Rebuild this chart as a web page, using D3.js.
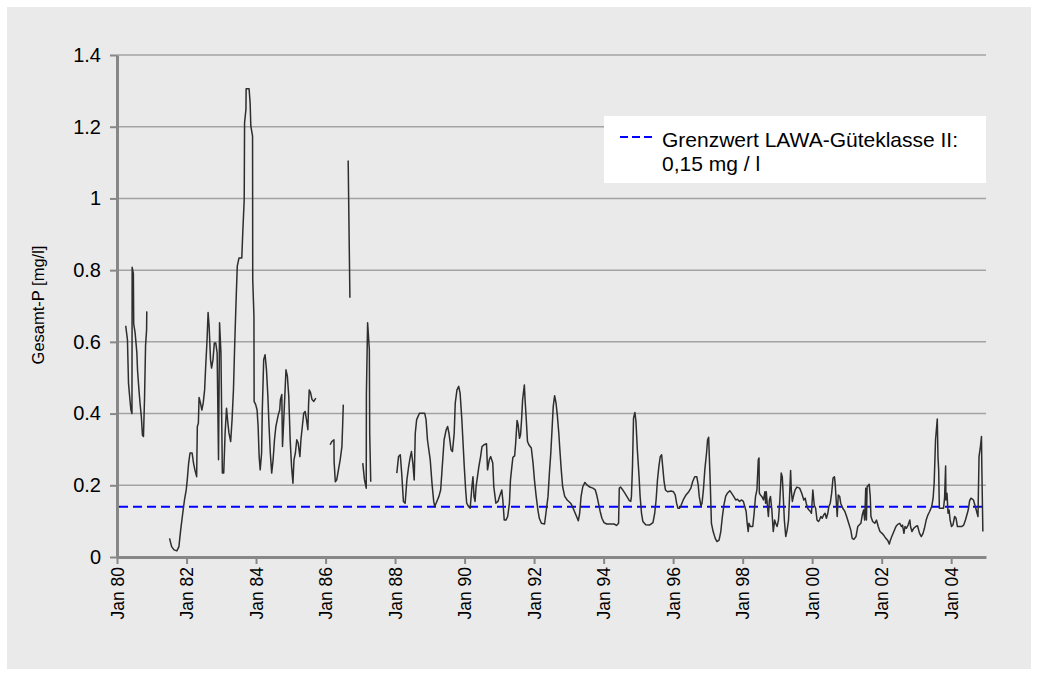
<!DOCTYPE html>
<html>
<head>
<meta charset="utf-8">
<script src="https://cdn.jsdelivr.net/npm/d3@7"></script>
<style>
  body { margin: 0; background: #fff; }
  svg { display: block; font-family: "Liberation Sans", Arial, sans-serif; }
</style>
</head>
<body>
<div id="chart"></div>
<script>
// sample dates as decimal years, null value = gap in the series
const years = [
  1980.25, 1980.30, 1980.33, 1980.37, 1980.40, 1980.43, 1980.435, 1980.47, 1980.48, 1980.52,
  1980.57, 1980.59, 1980.63, 1980.66, 1980.70, 1980.73, 1980.76, 1980.79, 1980.82, 1980.85, 1980.855,
  1981.2,
  1981.51, 1981.57, 1981.64, 1981.72, 1981.78, 1981.83, 1981.89, 1981.94, 1981.99, 1982.02,
  1982.06, 1982.10, 1982.16, 1982.20, 1982.24, 1982.29, 1982.31, 1982.34, 1982.36, 1982.40,
  1982.44, 1982.48, 1982.52, 1982.55, 1982.59, 1982.62, 1982.65, 1982.69, 1982.72, 1982.76,
  1982.80, 1982.84, 1982.88, 1982.92, 1982.95, 1982.99, 1983.03, 1983.07, 1983.11, 1983.15,
  1983.19, 1983.22, 1983.27, 1983.31, 1983.35, 1983.39, 1983.43, 1983.46, 1983.51, 1983.59,
  1983.62, 1983.66, 1983.67, 1983.71, 1983.715, 1983.80, 1983.83, 1983.85, 1983.90, 1983.905,
  1983.94, 1983.945, 1983.99, 1984.03, 1984.06, 1984.09, 1984.12, 1984.16, 1984.18, 1984.22,
  1984.26, 1984.30, 1984.34, 1984.37, 1984.41, 1984.45, 1984.49, 1984.53, 1984.57, 1984.60,
  1984.64, 1984.68, 1984.70, 1984.74, 1984.76, 1984.79, 1984.83, 1984.86, 1984.90, 1984.94,
  1984.98, 1985.02, 1985.06, 1985.09, 1985.13, 1985.17, 1985.21, 1985.26, 1985.29, 1985.33,
  1985.37, 1985.41, 1985.45, 1985.49, 1985.51, 1985.53, 1985.57, 1985.61, 1985.66, 1985.72,
  1985.9,
  1986.13, 1986.18, 1986.24, 1986.245, 1986.28, 1986.32, 1986.37, 1986.42, 1986.47, 1986.49, 1986.51,
  1986.58,
  1986.65, 1986.70,
  1986.9,
  1987.07, 1987.12, 1987.17, 1987.175, 1987.21, 1987.26, 1987.27, 1987.30,
  1987.7,
  1988.05, 1988.10, 1988.15, 1988.19, 1988.24, 1988.29, 1988.34, 1988.39, 1988.43, 1988.47,
  1988.51, 1988.55, 1988.58, 1988.62, 1988.70, 1988.85, 1988.89, 1988.93, 1989.01, 1989.06,
  1989.11, 1989.14, 1989.20, 1989.26, 1989.31, 1989.35, 1989.41, 1989.47, 1989.51, 1989.55,
  1989.61, 1989.65, 1989.70, 1989.73, 1989.78, 1989.83, 1989.87, 1989.92, 1989.95, 1989.99,
  1990.03, 1990.06, 1990.11, 1990.16, 1990.21, 1990.24, 1990.27, 1990.30, 1990.33, 1990.37,
  1990.41, 1990.46, 1990.50, 1990.56, 1990.63, 1990.66, 1990.71, 1990.75, 1990.81, 1990.84,
  1990.90, 1990.96, 1991.02, 1991.07, 1991.10, 1991.14, 1991.19, 1991.24, 1991.29, 1991.32,
  1991.36, 1991.39, 1991.44, 1991.47, 1991.51, 1991.54, 1991.58, 1991.61, 1991.64, 1991.67,
  1991.72, 1991.74, 1991.77, 1991.81, 1991.85, 1991.92, 1991.97, 1992.01, 1992.06, 1992.11,
  1992.15, 1992.21, 1992.30, 1992.34, 1992.40, 1992.44, 1992.48, 1992.52, 1992.55, 1992.59,
  1992.63, 1992.67, 1992.71, 1992.74, 1992.78, 1992.82, 1992.88, 1992.95, 1993.05, 1993.10,
  1993.16, 1993.22, 1993.27, 1993.31, 1993.35, 1993.40, 1993.46, 1993.52, 1993.60, 1993.69,
  1993.76, 1993.80, 1993.85, 1993.90, 1993.95, 1994.01, 1994.09, 1994.18, 1994.30, 1994.37,
  1994.43, 1994.45, 1994.49, 1994.55, 1994.61, 1994.68, 1994.74, 1994.78, 1994.80, 1994.83,
  1994.86, 1994.90, 1994.93, 1994.97, 1995.02, 1995.05, 1995.09, 1995.13, 1995.21, 1995.32,
  1995.42, 1995.47, 1995.51, 1995.55, 1995.59, 1995.63, 1995.67, 1995.70, 1995.74, 1995.78,
  1995.84, 1995.94, 1996.01, 1996.06, 1996.10, 1996.14, 1996.18, 1996.22, 1996.29, 1996.37,
  1996.45, 1996.51, 1996.56, 1996.62, 1996.68, 1996.72, 1996.75, 1996.80, 1996.83, 1996.87,
  1996.91, 1996.96, 1996.99, 1997.02, 1997.04, 1997.07, 1997.10, 1997.15, 1997.21, 1997.26,
  1997.32, 1997.37, 1997.41, 1997.46, 1997.51, 1997.56, 1997.63, 1997.68, 1997.74, 1997.80,
  1997.85, 1997.91, 1997.97, 1998.02, 1998.06, 1998.10, 1998.13, 1998.16, 1998.18, 1998.22,
  1998.29, 1998.33, 1998.37, 1998.41, 1998.45, 1998.47, 1998.48, 1998.51, 1998.55, 1998.60,
  1998.64, 1998.66, 1998.68, 1998.71, 1998.74, 1998.77, 1998.80, 1998.84, 1998.88, 1998.92,
  1998.95, 1998.99, 1999.03, 1999.07, 1999.11, 1999.14, 1999.16, 1999.20, 1999.24, 1999.28,
  1999.32, 1999.35, 1999.38, 1999.40, 1999.43, 1999.47, 1999.51, 1999.56, 1999.64, 1999.70,
  1999.76, 1999.80, 1999.83, 1999.87, 1999.91, 1999.95, 1999.98, 2000.02, 2000.06, 2000.10,
  2000.14, 2000.18, 2000.21, 2000.25, 2000.29, 2000.33, 2000.37, 2000.41, 2000.45, 2000.48,
  2000.52, 2000.56, 2000.60, 2000.64, 2000.66, 2000.69, 2000.72, 2000.75, 2000.79, 2000.82,
  2000.88, 2000.94, 2000.99, 2001.05, 2001.11, 2001.15, 2001.20, 2001.26, 2001.31, 2001.40,
  2001.44, 2001.48, 2001.51, 2001.54, 2001.56, 2001.58, 2001.64, 2001.67, 2001.69, 2001.74,
  2001.80, 2001.85, 2001.90, 2001.95, 2002.01, 2002.07, 2002.12, 2002.17, 2002.22, 2002.25,
  2002.29, 2002.35, 2002.41, 2002.46, 2002.52, 2002.57, 2002.60, 2002.64, 2002.67, 2002.71,
  2002.76, 2002.81, 2002.83, 2002.87, 2002.92, 2002.98, 2003.03, 2003.09, 2003.14, 2003.19,
  2003.23, 2003.28, 2003.33, 2003.38, 2003.44, 2003.48, 2003.51, 2003.55, 2003.60, 2003.62,
  2003.64, 2003.66, 2003.72, 2003.78, 2003.81, 2003.84, 2003.85, 2003.88, 2003.91, 2003.94,
  2003.97, 2004.01, 2004.05, 2004.10, 2004.14, 2004.18, 2004.24, 2004.30, 2004.36, 2004.41,
  2004.45, 2004.49, 2004.53, 2004.57, 2004.64, 2004.68, 2004.72, 2004.77, 2004.80, 2004.84,
  2004.87, 2004.88, 2004.91
];

// Gesamt-P in mg/l
const gesamtP = [
  0.645, 0.606, 0.485, 0.44, 0.41, 0.40, 0.808, 0.79, 0.65, 0.625,
  0.57, 0.52, 0.466, 0.43, 0.39, 0.34, 0.336, 0.44, 0.59, 0.634, 0.685,
  null,
  0.052, 0.029, 0.02, 0.017, 0.029, 0.075, 0.122, 0.159, 0.187, 0.215,
  0.262, 0.29, 0.29, 0.262, 0.243, 0.224, 0.364, 0.373, 0.445, 0.43,
  0.41, 0.43, 0.466, 0.53, 0.606, 0.682, 0.643, 0.55, 0.527, 0.55,
  0.597, 0.597, 0.569, 0.271, 0.653, 0.569, 0.234, 0.234, 0.346, 0.415,
  0.373, 0.346, 0.322, 0.383, 0.466, 0.606, 0.727, 0.811, 0.834, 0.834,
  0.909, 0.997, 1.211, 1.249, 1.306, 1.306, 1.267, 1.202, 1.174, 0.774,
  0.671, 0.434, 0.425, 0.41, 0.364, 0.28, 0.243, 0.29, 0.41, 0.55,
  0.564, 0.522, 0.448, 0.373, 0.29, 0.234, 0.271, 0.327, 0.364, 0.378,
  0.397, 0.41, 0.439, 0.453, 0.308, 0.369, 0.457, 0.522, 0.504, 0.448,
  0.327, 0.252, 0.206, 0.271, 0.29, 0.327, 0.318, 0.28, 0.327, 0.364,
  0.401, 0.406, 0.383, 0.355, 0.425, 0.466, 0.457, 0.439, 0.434, 0.443,
  null,
  0.313, 0.322, 0.327, 0.266, 0.21, 0.215, 0.243, 0.271, 0.308, 0.364, 0.425,
  null,
  1.106, 0.723,
  null,
  0.262, 0.215, 0.192, 0.457, 0.653, 0.578, 0.345, 0.21,
  null,
  0.234, 0.28, 0.285, 0.234, 0.155, 0.15, 0.215, 0.252, 0.276, 0.294,
  0.262, 0.215, 0.345, 0.383, 0.401, 0.401, 0.383, 0.327, 0.271, 0.206,
  0.155, 0.141, 0.155, 0.169, 0.187, 0.243, 0.327, 0.355, 0.364, 0.345,
  0.299, 0.294, 0.345, 0.429, 0.466, 0.476, 0.457, 0.383, 0.327, 0.252,
  0.187, 0.15, 0.141, 0.136, 0.196, 0.224, 0.169, 0.155, 0.196, 0.224,
  0.252, 0.28, 0.308, 0.313, 0.316, 0.243, 0.271, 0.28, 0.262, 0.196,
  0.15, 0.155, 0.173, 0.187, 0.159, 0.103, 0.103, 0.113, 0.15, 0.215,
  0.252, 0.278, 0.282, 0.318, 0.381, 0.369, 0.331, 0.341, 0.383, 0.439,
  0.48, 0.439, 0.392, 0.322, 0.313, 0.304, 0.262, 0.215, 0.169, 0.131,
  0.108, 0.094, 0.092, 0.122, 0.169, 0.234, 0.29, 0.364, 0.42, 0.45,
  0.429, 0.392, 0.345, 0.299, 0.243, 0.196, 0.169, 0.159, 0.15, 0.141,
  0.127, 0.113, 0.101, 0.122, 0.169, 0.196, 0.208, 0.201, 0.195, 0.192,
  0.187, 0.173, 0.15, 0.127, 0.108, 0.096, 0.092, 0.092, 0.092, 0.088,
  0.094, 0.192, 0.195, 0.187, 0.178, 0.167, 0.157, 0.155, 0.169, 0.252,
  0.387, 0.403, 0.378, 0.299, 0.224, 0.169, 0.122, 0.099, 0.09, 0.089,
  0.096, 0.122, 0.159, 0.215, 0.252, 0.28, 0.285, 0.252, 0.21, 0.187,
  0.182, 0.184, 0.182, 0.173, 0.15, 0.136, 0.136, 0.142, 0.159, 0.173,
  0.182, 0.192, 0.21, 0.224, 0.224, 0.201, 0.169, 0.142, 0.15, 0.187,
  0.243, 0.29, 0.327, 0.334, 0.28, 0.196, 0.094, 0.071, 0.052, 0.043,
  0.047, 0.071, 0.108, 0.145, 0.169, 0.178, 0.185, 0.178, 0.169, 0.159,
  0.161, 0.155, 0.159, 0.155, 0.141, 0.127, 0.094, 0.071, 0.094, 0.085,
  0.085, 0.122, 0.169, 0.187, 0.271, 0.276, 0.178, 0.173, 0.169, 0.159,
  0.182, 0.15, 0.182, 0.145, 0.113, 0.159, 0.169, 0.131, 0.071, 0.103,
  0.094, 0.085, 0.103, 0.159, 0.234, 0.224, 0.187, 0.103, 0.057, 0.075,
  0.103, 0.169, 0.241, 0.187, 0.155, 0.173, 0.187, 0.195, 0.192, 0.178,
  0.159, 0.164, 0.15, 0.136, 0.131, 0.127, 0.122, 0.187, 0.145, 0.136,
  0.103, 0.099, 0.103, 0.113, 0.108, 0.117, 0.122, 0.108, 0.122, 0.141,
  0.15, 0.178, 0.22, 0.224, 0.206, 0.159, 0.113, 0.173, 0.169, 0.15,
  0.136, 0.127, 0.113, 0.094, 0.075, 0.052, 0.049, 0.057, 0.085, 0.094,
  0.117, 0.131, 0.103, 0.192, 0.103, 0.196, 0.203, 0.169, 0.113, 0.099,
  0.094, 0.103, 0.085, 0.071, 0.066, 0.059, 0.052, 0.047, 0.036, 0.047,
  0.057, 0.071, 0.085, 0.091, 0.094, 0.085, 0.089, 0.066, 0.085, 0.08,
  0.089, 0.103, 0.085, 0.071, 0.08, 0.085, 0.087, 0.066, 0.057, 0.066,
  0.08, 0.103, 0.117, 0.127, 0.141, 0.164, 0.206, 0.327, 0.385, 0.28,
  0.243, 0.136, 0.136, 0.136, 0.164, 0.254, 0.159, 0.178, 0.122, 0.131,
  0.103, 0.085, 0.089, 0.113, 0.108, 0.085, 0.085, 0.085, 0.089, 0.103,
  0.117, 0.131, 0.157, 0.164, 0.159, 0.145, 0.131, 0.113, 0.28, 0.308,
  0.336, 0.252, 0.071
];

const yTicks = [0, 0.2, 0.4, 0.6, 0.8, 1, 1.2, 1.4];
const yTickLabels = ["0", "0.2", "0.4", "0.6", "0.8", "1", "1.2", "1.4"];
const grenzwert = 0.14; // dashed line as drawn in the original
const legendLines = ["Grenzwert LAWA-Güteklasse II:", "0,15 mg / l"];
const yTitle = "Gesamt-P [mg/l]";

const width = 1038;
const height = 677;
const plot = { left: 117, right: 986, top: 55, bottom: 557 };

// decimal year -> Date
function toDate(yr) {
  const y = Math.floor(yr);
  const a = new Date(y, 0, 1), b = new Date(y + 1, 0, 1);
  return new Date(+a + (yr - y) * (b - a));
}

const data = years.map((t, i) => ({ date: toDate(t), value: gesamtP[i] }));

const svg = d3.select("#chart")
  .append("svg")
  .attr("width", width)
  .attr("height", height);

// grey panel
svg.append("rect")
  .attr("x", 7).attr("y", 7)
  .attr("width", width - 14).attr("height", height - 15)
  .attr("fill", "#eaeaea");

const x = d3.scaleTime()
  .domain([new Date(1980, 0, 1), new Date(2005, 0, 1)])
  .range([plot.left, plot.right]);

const y = d3.scaleLinear()
  .domain([0, 1.4])
  .range([plot.bottom, plot.top]);

// horizontal gridlines
svg.append("g")
  .selectAll("line")
  .data(yTicks.slice(1))
  .enter().append("line")
  .attr("x1", plot.left).attr("x2", plot.right)
  .attr("y1", d => y(d)).attr("y2", d => y(d))
  .attr("stroke", "#a3a3a3")
  .attr("stroke-width", 1.5);

// legend box (sits above the 1.2 gridline)
const legend = svg.append("g");
legend.append("rect")
  .attr("x", 604).attr("y", 116)
  .attr("width", plot.right - 604).attr("height", 67)
  .attr("fill", "#fff");
legend.append("line")
  .attr("x1", 620).attr("x2", 656)
  .attr("y1", 137).attr("y2", 137)
  .attr("stroke", "#0000ff")
  .attr("stroke-width", 2)
  .attr("stroke-dasharray", "8,4");
legend.append("text")
  .attr("x", 662).attr("y", 147)
  .attr("font-size", 21)
  .attr("fill", "#000")
  .selectAll("tspan")
  .data(legendLines)
  .enter().append("tspan")
  .attr("x", 662)
  .attr("dy", (d, i) => i === 0 ? 0 : 24)
  .text(d => d);

// y axis
const yAxis = svg.append("g")
  .attr("transform", `translate(${plot.left},0)`)
  .call(d3.axisLeft(y)
    .tickValues(yTicks)
    .tickSize(7)
    .tickSizeOuter(0)
    .tickPadding(9)
    .tickFormat((d, i) => yTickLabels[i]));
yAxis.select(".domain").attr("stroke", "#878787").attr("stroke-width", 3);
yAxis.selectAll(".tick line").attr("stroke", "#878787").attr("stroke-width", 2);
yAxis.selectAll(".tick text")
  .attr("font-family", "Liberation Sans, Arial, sans-serif")
  .attr("font-size", 20)
  .attr("fill", "#000");

// x axis
const xAxis = svg.append("g")
  .attr("transform", `translate(0,${plot.bottom})`)
  .call(d3.axisBottom(x)
    .ticks(d3.timeYear.every(2))
    .tickSize(7)
    .tickSizeOuter(0)
    .tickFormat(d3.timeFormat("Jan %y")));
xAxis.select(".domain").attr("stroke", "#878787").attr("stroke-width", 3);
xAxis.selectAll(".tick line").attr("stroke", "#878787").attr("stroke-width", 2);
xAxis.selectAll(".tick text")
  .attr("font-family", "Liberation Sans, Arial, sans-serif")
  .attr("font-size", 17.5)
  .attr("fill", "#000")
  .attr("text-anchor", "end")
  .attr("transform", "rotate(-90)")
  .attr("x", -10)
  .attr("y", 0)
  .attr("dy", "0.35em");

// y title
svg.append("text")
  .attr("transform", "translate(38,305) rotate(-90)")
  .attr("text-anchor", "middle")
  .attr("dy", "0.35em")
  .attr("font-size", 16.5)
  .attr("fill", "#000")
  .text(yTitle);

// Grenzwert line
svg.append("line")
  .attr("x1", plot.left + 2).attr("x2", plot.right)
  .attr("y1", y(grenzwert)).attr("y2", y(grenzwert))
  .attr("stroke", "#0000ff")
  .attr("stroke-width", 2)
  .attr("stroke-dasharray", "9,5");

// measured series
const line = d3.line()
  .defined(d => d.value !== null)
  .x(d => x(d.date))
  .y(d => y(d.value));

svg.append("path")
  .datum(data)
  .attr("fill", "none")
  .attr("stroke", "#2e2e2e")
  .attr("stroke-width", 1.5)
  .attr("stroke-linejoin", "round")
  .attr("d", line);
</script>
</body>
</html>
